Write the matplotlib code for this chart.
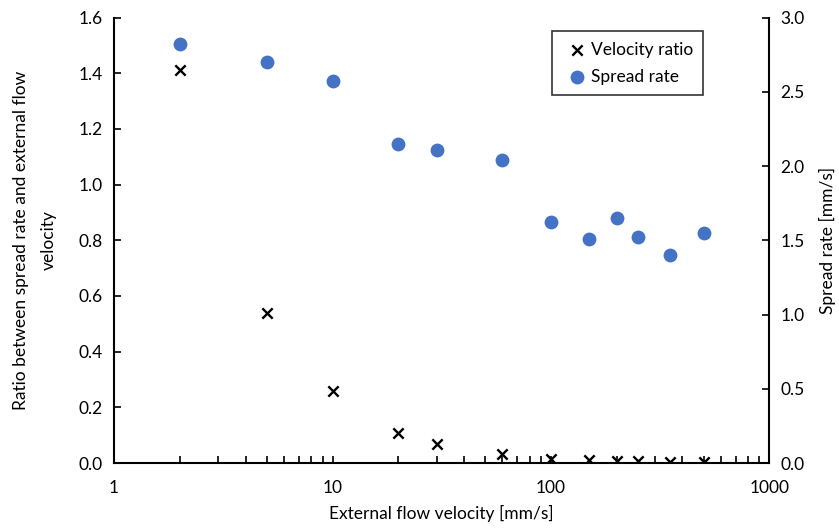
import matplotlib.pyplot as plt

# External flow velocity [mm/s]
velocity = [2, 5, 10, 20, 30, 60, 100, 150, 200, 250, 350, 500]
# Spread rate [mm/s] (right axis)
spread_rate = [2.82, 2.70, 2.57, 2.15, 2.11, 2.04, 1.62, 1.51, 1.65, 1.52, 1.40, 1.55]
# Ratio between spread rate and external flow velocity (left axis)
velocity_ratio = [1.41, 0.54, 0.257, 0.107, 0.070, 0.034, 0.016, 0.010, 0.008, 0.006, 0.004, 0.003]

left_ticks = [0.0, 0.2, 0.4, 0.6, 0.8, 1.0, 1.2, 1.4, 1.6]
right_ticks = [0.0, 0.5, 1.0, 1.5, 2.0, 2.5, 3.0]
x_ticks = [1, 10, 100, 1000]

plt.rcParams['font.family'] = ['Lato', 'DejaVu Sans']
fs = 12.5

fig = plt.figure(figsize=(8.39, 5.31), dpi=100)
ax1 = fig.add_axes([0.136, 0.128, 0.781, 0.839])
ax2 = ax1.twinx()

ax1.scatter(velocity, velocity_ratio, marker='x', color='black', s=55, linewidths=1.7,
            label='Velocity ratio', zorder=3)
ax2.scatter(velocity, spread_rate, marker='o', color='#4472C4', s=80,
            label='Spread rate', zorder=3)

ax1.set_xscale('log')
ax1.set_xlim(1, 1000)
ax1.set_ylim(0, 1.6)
ax2.set_ylim(0, 3.0)
ax1.set_xticks(x_ticks)
ax1.set_xticklabels([str(t) for t in x_ticks])
ax1.set_yticks(left_ticks)
ax1.set_yticklabels([f'{t:.1f}' for t in left_ticks])
ax2.set_yticks(right_ticks)
ax2.set_yticklabels([f'{t:.1f}' for t in right_ticks])

for ax in (ax1, ax2):
    ax.spines['top'].set_visible(False)
    for s in ('left', 'right', 'bottom'):
        ax.spines[s].set_linewidth(1.5)
ax2.spines['left'].set_visible(False)
ax2.spines['bottom'].set_visible(False)
ax1.spines['right'].set_visible(False)

ax1.tick_params(axis='x', which='major', direction='in', length=5, width=1.2, pad=12, labelsize=fs)
ax1.tick_params(axis='x', which='minor', direction='in', length=5, width=1.2)
ax1.tick_params(axis='y', direction='in', length=5, width=1.2, pad=8, labelsize=fs)
ax2.tick_params(axis='y', direction='in', length=5, width=1.2, pad=8, labelsize=fs)

ax1.set_xlabel('External flow velocity [mm/s]', fontsize=fs, labelpad=7)
ax1.set_ylabel('Ratio between spread rate and external flow\nvelocity', fontsize=fs,
               labelpad=16, linespacing=1.9)
ax2.set_ylabel('Spread rate [mm/s]', fontsize=fs, labelpad=10)

h1, l1 = ax1.get_legend_handles_labels()
h2, l2 = ax2.get_legend_handles_labels()
leg = ax2.legend(h1 + h2, l1 + l2, loc='upper left', bbox_to_anchor=(0.669, 0.969),
                 borderaxespad=0, frameon=True, fancybox=False, edgecolor='black',
                 fontsize=fs, handletextpad=0.0, handlelength=1.6, borderpad=0.6,
                 labelspacing=0.65)
leg.get_frame().set_linewidth(1.2)

fig.savefig('out.png', dpi=100)
